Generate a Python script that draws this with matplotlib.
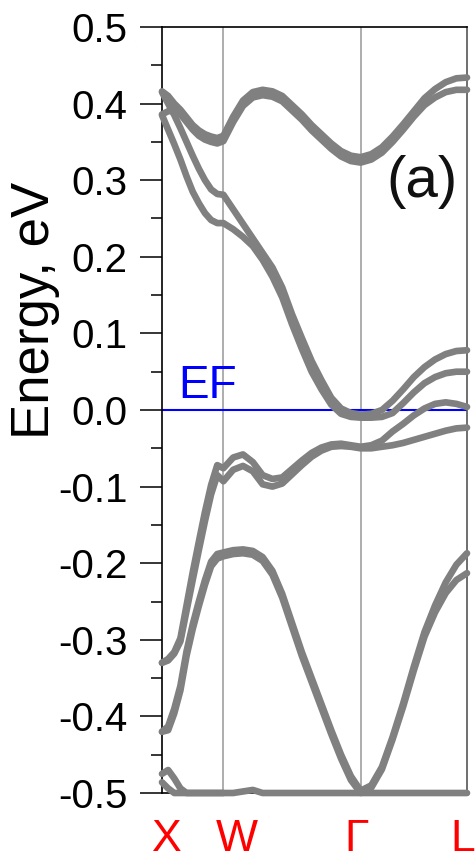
import numpy as np
import matplotlib
matplotlib.use("Agg")
import matplotlib.pyplot as plt
from matplotlib.ticker import MultipleLocator, FormatStrFormatter
from matplotlib.transforms import ScaledTranslation

plt.rcParams['font.family'] = ['Liberation Sans', 'DejaVu Sans']
plt.rcParams['axes.unicode_minus'] = False

# high-symmetry path X - W - Gamma - L (k in units of 2pi/a)
k_points = [0.0, 0.5, 1.618, 2.484]
k_labels = ['X', 'W', 'Γ', 'L']

# sampling of each segment
k = np.concatenate([
    np.linspace(k_points[0], k_points[1], 11),
    np.linspace(k_points[1], k_points[2], 15)[1:],
    np.linspace(k_points[2], k_points[3], 11)[1:],
])

# band energies (eV), X-W | W-G | G-L
c1a = [0.416, 0.410, 0.400, 0.392, 0.382, 0.372, 0.365, 0.360, 0.357, 0.355, 0.358,
       0.383, 0.404, 0.415, 0.418, 0.416, 0.410, 0.398, 0.386, 0.372, 0.360, 0.348, 0.338, 0.332, 0.330,
       0.334, 0.343, 0.357, 0.373, 0.390, 0.407, 0.419, 0.428, 0.433, 0.434]
c1b = [0.386, 0.390, 0.391, 0.386, 0.376, 0.366, 0.358, 0.353, 0.350, 0.348, 0.351,
       0.376, 0.397, 0.408, 0.411, 0.409, 0.403, 0.391, 0.379, 0.365, 0.353, 0.341, 0.331, 0.325, 0.323,
       0.327, 0.336, 0.350, 0.366, 0.383, 0.398, 0.408, 0.415, 0.418, 0.418]
c2 = [0.415, 0.400, 0.385, 0.368, 0.350, 0.332, 0.315, 0.300, 0.288, 0.282, 0.281,
      0.262, 0.243, 0.224, 0.205, 0.186, 0.160, 0.125, 0.094, 0.064, 0.039, 0.016, 0.002, -0.004, -0.006,
      -0.005, 0.000, 0.012, 0.027, 0.043, 0.056, 0.066, 0.073, 0.077, 0.078]
c3 = [0.385, 0.366, 0.347, 0.327, 0.305, 0.285, 0.270, 0.257, 0.248, 0.244, 0.244,
      0.236, 0.226, 0.214, 0.196, 0.174, 0.147, 0.112, 0.080, 0.050, 0.027, 0.007, -0.005, -0.009, -0.010,
      -0.010, -0.009, -0.004, 0.009, 0.023, 0.035, 0.043, 0.048, 0.050, 0.050]
v1 = [-0.330, -0.325, -0.316, -0.298, -0.255, -0.212, -0.172, -0.133, -0.098, -0.072, -0.076,
      -0.062, -0.058, -0.068, -0.085, -0.090, -0.088, -0.077, -0.066, -0.056, -0.049, -0.045, -0.044, -0.046, -0.048,
      -0.046, -0.040, -0.028, -0.018, -0.007, 0.002, 0.008, 0.010, 0.008, 0.004]
v2 = [-0.330, -0.327, -0.318, -0.302, -0.262, -0.222, -0.183, -0.145, -0.110, -0.085, -0.093,
      -0.078, -0.073, -0.080, -0.097, -0.100, -0.096, -0.084, -0.072, -0.061, -0.053, -0.048, -0.047, -0.048, -0.050,
      -0.050, -0.048, -0.046, -0.043, -0.039, -0.035, -0.031, -0.027, -0.024, -0.023]
v3a = [-0.420, -0.413, -0.390, -0.360, -0.315, -0.280, -0.250, -0.222, -0.198, -0.188, -0.186,
       -0.183, -0.182, -0.184, -0.192, -0.210, -0.240, -0.278, -0.316, -0.350, -0.384, -0.418, -0.450, -0.478, -0.497,
       -0.490, -0.466, -0.427, -0.383, -0.335, -0.290, -0.255, -0.225, -0.202, -0.187]
v3b = [-0.420, -0.418, -0.396, -0.366, -0.321, -0.286, -0.256, -0.228, -0.204, -0.194, -0.191,
       -0.188, -0.187, -0.189, -0.197, -0.215, -0.245, -0.283, -0.321, -0.355, -0.389, -0.423, -0.455, -0.483, -0.500,
       -0.493, -0.469, -0.430, -0.387, -0.340, -0.296, -0.264, -0.239, -0.222, -0.213]
v4a = [-0.475, -0.470, -0.481, -0.494, -0.500, -0.500, -0.500, -0.500, -0.500, -0.500, -0.500,
       -0.500, -0.498, -0.496, -0.500, -0.500, -0.500, -0.500, -0.500, -0.500, -0.500, -0.500, -0.500, -0.500, -0.500,
       -0.500, -0.500, -0.500, -0.500, -0.500, -0.500, -0.500, -0.500, -0.500, -0.500]
v4b = [-0.486, -0.494, -0.500, -0.500, -0.500, -0.500, -0.500, -0.500, -0.500, -0.500, -0.500]

bands = [c1a, c1b, c2, c3, v1, v2, v3a, v3b, v4a]

fig = plt.figure(figsize=(4.75, 8.63), dpi=100)
ax = fig.add_axes([162 / 475, 70 / 863, 305 / 475, 766 / 863])

for kp in k_points[1:3]:
    ax.axvline(kp, color='#a0a0a0', lw=1.2, zorder=1)
ax.axhline(0.0, color='#0000ff', lw=1.5, zorder=1)

band_style = dict(color='#808080', lw=4.8, solid_capstyle='round',
                  solid_joinstyle='round', clip_on=False, zorder=3)
for e in bands:
    ax.plot(k, e, **band_style)
ax.plot(k[:len(v4b)], v4b, **band_style)

ax.text(0.13, 0.016, 'EF', color='#0000ff', fontsize=33, ha='left', va='baseline')
ax.text(2.117, 0.298, '(a)', color='#111111', fontsize=42, ha='center', va='center')

ax.set_xlim(k_points[0], k_points[-1])
ax.set_ylim(-0.5, 0.5)

ax.yaxis.set_major_locator(MultipleLocator(0.1))
ax.yaxis.set_minor_locator(MultipleLocator(0.05))
ax.yaxis.set_major_formatter(FormatStrFormatter('%.1f'))
ax.tick_params(axis='y', which='major', direction='out', length=16, width=1.1,
               labelsize=29, pad=9)
ax.tick_params(axis='y', which='minor', direction='out', length=8, width=1.1)

ax.set_xticks(k_points, k_labels)
ax.tick_params(axis='x', length=0, labelsize=32, labelcolor='#ff0000', pad=19)
shifts = [5, 13, -4, -4]
for lab, dx in zip(ax.get_xticklabels(), shifts):
    lab.set_transform(lab.get_transform() + ScaledTranslation(dx / 100, 0, fig.dpi_scale_trans))

ax.set_ylabel('Energy, eV', fontsize=38)
ax.yaxis.set_label_coords(-0.335, 0.63)

for side in ['left', 'top', 'bottom']:
    ax.spines[side].set_color('black')
    ax.spines[side].set_linewidth(1.2)
ax.spines['right'].set_color('#555555')
ax.spines['right'].set_linewidth(1.2)

fig.savefig('out.png', dpi=100)
